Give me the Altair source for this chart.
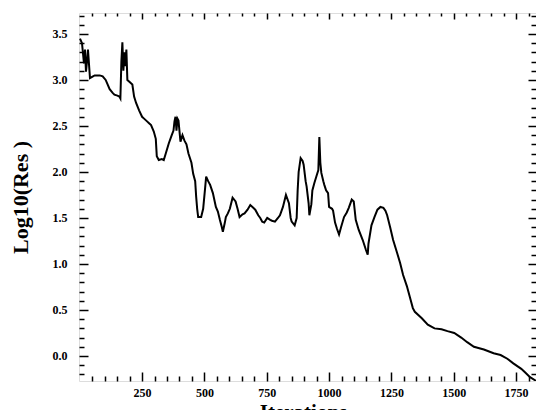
import altair as alt
import pandas as pd

# Iteration numbers and log10 residual values
iterations = [1, 9, 17, 21, 25, 29, 33, 41, 53, 60, 80, 92, 104, 120, 132, 139, 151, 159,
              163, 167, 171, 175, 179, 183, 187, 191, 199, 211, 218, 226, 238, 250, 258,
              270, 278, 286, 297, 305, 309, 317, 329, 337, 345, 357, 369, 376, 380, 384,
              388, 392, 396, 404, 412, 420, 428, 436, 448, 455, 463, 467, 471, 475, 487,
              495, 503, 507, 515, 523, 534, 546, 554, 562, 570, 574, 582, 586, 594, 602,
              613, 625, 633, 641, 653, 661, 673, 684, 696, 704, 716, 724, 732, 740, 752,
              764, 771, 783, 795, 803, 815, 827, 839, 846, 850, 862, 870, 874, 878, 886,
              894, 898, 906, 910, 918, 921, 929, 933, 941, 949, 957, 961, 965, 969, 977,
              981, 988, 996, 1000, 1012, 1016, 1024, 1032, 1040, 1048, 1060, 1071, 1079,
              1091, 1099, 1107, 1119, 1135, 1147, 1155, 1158, 1170, 1182, 1194, 1206,
              1218, 1226, 1233, 1245, 1257, 1273, 1285, 1297, 1312, 1324, 1336, 1344,
              1372, 1396, 1423, 1451, 1475, 1502, 1530, 1554, 1581, 1621, 1660, 1688,
              1715, 1739, 1771, 1791, 1806, 1830]
log_res = [3.45, 3.40, 3.18, 3.33, 3.09, 3.20, 3.33, 3.02, 3.04, 3.05, 3.05, 3.04, 3.00,
           2.90, 2.86, 2.84, 2.83, 2.82, 2.80, 3.20, 3.41, 3.10, 3.30, 3.15, 3.33, 3.00,
           2.98, 2.95, 2.82, 2.75, 2.67, 2.60, 2.58, 2.55, 2.53, 2.51, 2.44, 2.36, 2.17,
           2.13, 2.14, 2.13, 2.20, 2.31, 2.40, 2.45, 2.55, 2.60, 2.45, 2.58, 2.56, 2.33,
           2.40, 2.34, 2.30, 2.20, 2.10, 1.98, 1.90, 1.73, 1.60, 1.51, 1.51, 1.60, 1.83,
           1.95, 1.90, 1.86, 1.77, 1.62, 1.57, 1.48, 1.40, 1.35, 1.45, 1.51, 1.55, 1.60,
           1.72, 1.68, 1.60, 1.51, 1.54, 1.55, 1.59, 1.64, 1.61, 1.59, 1.53, 1.50, 1.46,
           1.45, 1.50, 1.48, 1.47, 1.46, 1.50, 1.53, 1.62, 1.75, 1.66, 1.50, 1.46, 1.42,
           1.50, 1.80, 2.00, 2.15, 2.12, 2.08, 1.90, 1.84, 1.66, 1.53, 1.65, 1.80, 1.88,
           1.95, 2.02, 2.38, 2.10, 1.99, 1.90, 1.86, 1.80, 1.77, 1.62, 1.60, 1.58, 1.45,
           1.38, 1.32, 1.40, 1.51, 1.56, 1.61, 1.70, 1.68, 1.48, 1.37, 1.26, 1.16, 1.10,
           1.22, 1.42, 1.51, 1.59, 1.62, 1.61, 1.58, 1.53, 1.40, 1.26, 1.12, 1.01, 0.88,
           0.76, 0.64, 0.52, 0.48, 0.41, 0.34, 0.30, 0.29, 0.27, 0.25, 0.20, 0.15, 0.10,
           0.07, 0.03, 0.01, -0.03, -0.08, -0.14, -0.19, -0.23, -0.27]

x_major = [250, 500, 750, 1000, 1250, 1500, 1750]
x_minor = [v for v in range(50, 1830, 50) if v % 250 != 0]
y_major = [0.0, 0.5, 1.0, 1.5, 2.0, 2.5, 3.0, 3.5]
y_minor = [round(-0.2 + 0.1 * i, 1) for i in range(40)]
y_minor = [v for v in y_minor if abs(v * 2 - round(v * 2)) > 1e-6]

df = pd.DataFrame({"it": iterations, "res": log_res})

FONT = "Liberation Serif"
xs = alt.Scale(domain=[-3, 1830], nice=False, zero=False)
ys = alt.Scale(domain=[-0.272, 3.728], nice=False, zero=False)

common = dict(domain=False, grid=False, tickColor="black", tickWidth=1.5)


def layer(xaxis, yaxis, opacity):
    return alt.Chart(df).mark_line(color="black", strokeWidth=2, clip=True,
                                   opacity=opacity).encode(
        x=alt.X("it:Q", scale=xs, axis=xaxis),
        y=alt.Y("res:Q", scale=ys, axis=yaxis),
    )


main = layer(
    alt.Axis(orient="bottom", values=x_major, format="d", tickSize={"expr": "-9"},
             labelPadding=15, labelFont=FONT, labelFontSize=12, labelFontWeight="bold",
             labelColor="black", labelBaseline="top",
             title="Iterations", titleFont=FONT, titleFontSize=21, titleFontWeight="bold",
             titleColor="black", titleX=224, titleY=37, titleBaseline="alphabetic",
             titleAlign="center", **common),
    alt.Axis(orient="left", values=y_major, format=".1f", tickSize={"expr": "-9"},
             labelPadding=21, labelFont=FONT, labelFontSize=12, labelFontWeight="bold",
             labelColor="black",
             title="Log10(Res )", titleFont=FONT, titleFontSize=22, titleFontWeight="bold",
             titleColor="black", titleX=-59, titleY=184, titleAngle=270,
             titleAlign="center", titleBaseline="middle", **common),
    1,
)
minor1 = layer(
    alt.Axis(orient="bottom", values=x_minor, labels=False, title=None,
             tickSize={"expr": "-5"}, **common),
    alt.Axis(orient="left", values=y_minor, labels=False, title=None,
             tickSize={"expr": "-5"}, **common),
    0,
)
mirror_major = layer(
    alt.Axis(orient="top", values=x_major, labels=False, title=None,
             tickSize={"expr": "-6"}, **common),
    alt.Axis(orient="right", values=y_major, labels=False, title=None,
             tickSize={"expr": "-8"}, **common),
    0,
)
mirror_minor = layer(
    alt.Axis(orient="top", values=x_minor, labels=False, title=None,
             tickSize={"expr": "-3"}, **common),
    alt.Axis(orient="right", values=y_minor, labels=False, title=None,
             tickSize={"expr": "-5"}, **common),
    0,
)

chart = alt.layer(main, minor1, mirror_major, mirror_minor).resolve_axis(
    x="independent", y="independent"
).properties(
    width=457, height=368,
    autosize=alt.AutoSizeParams(type="none"),
    padding={"left": 71, "top": 5, "right": 0, "bottom": 29},
).configure_view(stroke="black", strokeWidth=2).configure(background="white")

chart.save("out.html", embed_options={"renderer": "svg", "actions": False})
